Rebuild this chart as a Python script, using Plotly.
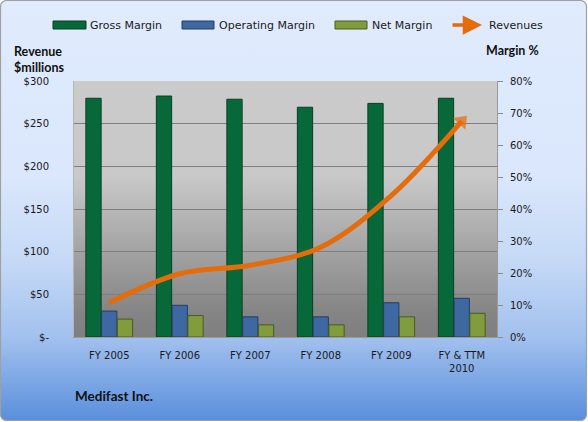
import base64
import math
import plotly.graph_objects as go

W, H = 588, 422
L, R, T, B = 74, 91, 81, 85
PW, PH = W - L - R, H - T - B

categories = ["FY 2005", "FY 2006", "FY 2007", "FY 2008", "FY 2009", "FY & TTM<br>2010"]
gross_margin = [74.6, 75.3, 74.3, 71.8, 73.0, 74.6]
operating_margin = [8.1, 9.9, 6.3, 6.3, 10.7, 12.1]
net_margin = [5.6, 6.7, 3.8, 3.8, 6.3, 7.4]
revenues = [40.1, 74.1, 84.1, 105.3, 165.7, 253.0]

rev_ticks = [0, 50, 100, 150, 200, 250, 300]
rev_ticktext = ["$-", "$50", "$100", "$150", "$200", "$250", "$300"]
pct_ticks = [0, 10, 20, 30, 40, 50, 60, 70, 80]
pct_ticktext = ["0%", "10%", "20%", "30%", "40%", "50%", "60%", "70%", "80%"]

GREEN, GREEN_L = "#07693a", "#0b3d22"
BLUE, BLUE_L = "#3d68a2", "#243d60"
OLIVE, OLIVE_L = "#819c3c", "#4a5a22"
ORANGE = "#e46c0a"


def px(x):
    return (x - L) / PW


def py(y):
    return (H - B - y) / PH


def svg_uri(svg):
    return "data:image/svg+xml;base64," + base64.b64encode(svg.encode()).decode()


paper_svg = f"""<svg xmlns='http://www.w3.org/2000/svg' width='{W}' height='{H}' viewBox='0 0 {W} {H}' preserveAspectRatio='none'>
<defs><linearGradient id='g' x1='0' y1='0' x2='0' y2='1'>
<stop offset='0' stop-color='#e0ebfd'/><stop offset='0.42' stop-color='#dae7fc'/>
<stop offset='0.62' stop-color='#c5d9f6'/><stop offset='0.8' stop-color='#a3c1ee'/>
<stop offset='1' stop-color='#5a8fdc'/></linearGradient></defs>
<rect x='0.5' y='0.5' width='{W-2}' height='{H-2}' rx='6' ry='6' fill='url(#g)' stroke='#a0a0a0' stroke-width='1.2'/>
</svg>"""

plot_svg = f"""<svg xmlns='http://www.w3.org/2000/svg' width='{PW}' height='{PH}' viewBox='0 0 {PW} {PH}' preserveAspectRatio='none'>
<defs><linearGradient id='p' x1='0' y1='0' x2='0' y2='1'>
<stop offset='0' stop-color='#cbcbcb'/><stop offset='0.38' stop-color='#c8c8c8'/>
<stop offset='0.66' stop-color='#a4a4a4'/><stop offset='0.9' stop-color='#858585'/>
<stop offset='1' stop-color='#7f7f7f'/></linearGradient></defs>
<rect x='0' y='0' width='{PW}' height='{PH}' fill='url(#p)'/>
</svg>"""

fig = go.Figure()
fig.add_trace(go.Bar(x=categories, y=gross_margin, name="Gross Margin",
                     marker=dict(color=GREEN, line=dict(color=GREEN_L, width=1)), yaxis="y"))
fig.add_trace(go.Bar(x=categories, y=operating_margin, name="Operating Margin",
                     marker=dict(color=BLUE, line=dict(color=BLUE_L, width=1)), yaxis="y"))
fig.add_trace(go.Bar(x=categories, y=net_margin, name="Net Margin",
                     marker=dict(color=OLIVE, line=dict(color=OLIVE_L, width=1)), yaxis="y"))

# direction of the last segment in screen space -> arrow head angle
n = len(revenues)
dx_px = PW / n
dy_px = (revenues[-1] - revenues[-2]) * PH / 300
head_angle = math.degrees(math.atan2(dx_px, dy_px))

fig.add_trace(go.Scatter(x=categories, y=revenues, name="Revenues", yaxis="y2",
                         mode="lines+markers",
                         line=dict(color=ORANGE, width=5, shape="spline", smoothing=1.0),
                         marker=dict(symbol="triangle-up", angle=head_angle,
                                     color=ORANGE, size=[0] * (n - 1) + [15],
                                     line=dict(width=0))))

tick_font = dict(family="DejaVu Sans", size=10, color="#1a1a1a")
bold_font = dict(family="Lato", size=12.5, color="#111111")

fig.update_layout(
    width=W, height=H,
    margin=dict(l=L, r=R, t=T, b=B, pad=0),
    paper_bgcolor="rgba(0,0,0,0)", plot_bgcolor="rgba(0,0,0,0)",
    showlegend=False,
    barmode="group", bargap=0.33, bargroupgap=0.03,
    xaxis=dict(showgrid=False, showline=True, linecolor="#9a9a9a", linewidth=1,
               tickfont=tick_font, ticks="", ticklabelstandoff=9, fixedrange=True),
    yaxis=dict(range=[0, 80], tickvals=pct_ticks, ticktext=pct_ticktext, side="right",
               showgrid=False, showline=True, linecolor="#9a9a9a", linewidth=1,
               ticks="outside", ticklen=5, tickcolor="#8a8a8a", tickfont=tick_font,
               ticklabelstandoff=5, zeroline=False),
    yaxis2=dict(range=[0, 300], tickvals=rev_ticks, ticktext=rev_ticktext, side="left",
                overlaying="y", showgrid=True, gridcolor="#7f7f7f", gridwidth=1,
                showline=True, linecolor="#b5b5b5", ticks="", tickfont=tick_font,
                ticklabelstandoff=22, zeroline=False),
    images=[
        dict(source=svg_uri(paper_svg), xref="paper", yref="paper", x=px(0), y=py(0),
             sizex=W / PW, sizey=H / PH, xanchor="left", yanchor="top",
             sizing="stretch", layer="below"),
        dict(source=svg_uri(plot_svg), xref="paper", yref="paper", x=0, y=1,
             sizex=1, sizey=1, xanchor="left", yanchor="top",
             sizing="stretch", layer="below"),
    ],
)

# custom legend
legend_items = [
    ("Gross Margin", GREEN, GREEN_L, 53, 86, 88),
    ("Operating Margin", BLUE, BLUE_L, 182, 214, 217),
    ("Net Margin", OLIVE, OLIVE_L, 335, 367, 370),
]
shapes = []
annotations = []
for name, c, lc, x0, x1, tx in legend_items:
    shapes.append(dict(type="rect", xref="paper", yref="paper", x0=px(x0), x1=px(x1),
                       y0=py(29), y1=py(21), fillcolor=c, line=dict(color=lc, width=1)))
    annotations.append(dict(text=name, xref="paper", yref="paper", x=px(tx), y=py(25),
                            xanchor="left", yanchor="middle", showarrow=False,
                            font=dict(family="DejaVu Sans", size=11, color="#1a1a1a")))
annotations.append(dict(text="", xref="paper", yref="paper", x=px(482), y=py(25),
                        ax=-31, ay=0, showarrow=True, arrowhead=2, arrowsize=1.1,
                        arrowwidth=3.5, arrowcolor=ORANGE))
annotations.append(dict(text="Revenues", xref="paper", yref="paper", x=px(487), y=py(25),
                        xanchor="left", yanchor="middle", showarrow=False,
                        font=dict(family="DejaVu Sans", size=11, color="#1a1a1a")))
annotations.append(dict(text="<b>Revenue<br>$millions</b>", xref="paper", yref="paper",
                        x=px(12), y=py(59), xanchor="left", yanchor="middle", align="left",
                        showarrow=False, font=bold_font))
annotations.append(dict(text="<b>Margin %</b>", xref="paper", yref="paper",
                        x=px(484), y=py(50), xanchor="left", yanchor="middle",
                        showarrow=False, font=bold_font))
annotations.append(dict(text="<b>Medifast Inc.</b>", xref="paper", yref="paper",
                        x=px(73), y=py(396), xanchor="left", yanchor="middle",
                        showarrow=False, font=dict(family="Lato", size=13.5, color="#111111")))

fig.update_layout(shapes=shapes, annotations=annotations)
fig.write_html("out.html")
